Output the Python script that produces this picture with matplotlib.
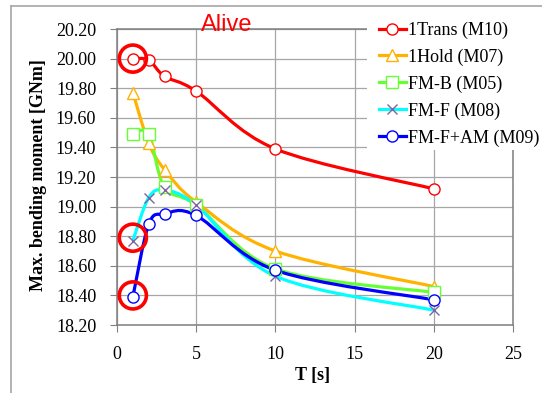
import matplotlib
matplotlib.use("Agg")
import matplotlib.pyplot as plt
import numpy as np
from matplotlib.path import Path
from matplotlib.patches import PathPatch, Rectangle
from matplotlib.lines import Line2D

plt.rcParams['font.family'] = 'Liberation Serif'

T = [1, 2, 3, 5, 10, 20]
trans_m10 = [20.00, 19.99, 19.88, 19.78, 19.39, 19.12]
hold_m07 = [19.77, 19.43, 19.25, 19.03, 18.70, 18.46]
fmb_m05 = [19.49, 19.49, 19.13, 19.01, 18.58, 18.42]
fmf_m08 = [18.77, 19.06, 19.11, 19.01, 18.53, 18.30]
fmfam_m09 = [18.39, 18.88, 18.95, 18.94, 18.57, 18.37]

labels = ["1Trans (M10)", "1Hold (M07)", "FM-B (M05)", "FM-F (M08)", "FM-F+AM (M09)"]
series = [trans_m10, hold_m07, fmb_m05, fmf_m08, fmfam_m09]

# points circled in the original
circled_T = [1, 1, 1]
circled_v = [20.00, 18.79, 18.40]

styles = [
    dict(color="#FF0000", marker="o", mec="#FF0000", ms=8),
    dict(color="#FFB300", marker="^", mec="#FFB300", ms=8),
    dict(color="#66FF33", marker="s", mec="#66FF33", ms=8),
    dict(color="#00FFFF", marker="x", mec="#8064A2", ms=7),
    dict(color="#0000FF", marker="o", mec="#0000FF", ms=8),
]


def smooth_path(x, y):
    # excel style smoothed line: catmull-rom segments as cubic bezier
    p = np.column_stack([x, y]).astype(float)
    n = len(p)
    verts = [p[0]]
    codes = [Path.MOVETO]
    for i in range(n - 1):
        p0 = p[i - 1] if i > 0 else p[i]
        p3 = p[i + 2] if i + 2 < n else p[i + 1]
        c1 = p[i] + (p[i + 1] - p0) / 6.0
        c2 = p[i + 1] - (p3 - p[i]) / 6.0
        verts += [c1, c2, p[i + 1]]
        codes += [Path.CURVE4] * 3
    return Path(verts, codes)


fig = plt.figure(figsize=(5.42, 3.93), dpi=100)
ax = fig.add_axes([0.2159, 0.1730, 0.7306, 0.7532])

handles = []
for vals, st in zip(series, styles):
    ax.add_patch(PathPatch(smooth_path(T, vals), fill=False, edgecolor=st["color"], lw=2.3, zorder=3))
    mfc = "none" if st["marker"] == "x" else "white"
    ax.plot(T, vals, linestyle="none", marker=st["marker"], ms=st["ms"], mfc=mfc,
            mec=st["mec"], mew=1.0, zorder=4)
    handles.append(Line2D([], [], color=st["color"], lw=2.3, marker=st["marker"], ms=st["ms"],
                          mfc=mfc, mec=st["mec"], mew=1.0))

ax.scatter(circled_T, circled_v, s=380, facecolors="none", edgecolors="#FF0000", linewidths=2.6, zorder=5)

ax.set_xlim(0, 25)
ax.set_ylim(18.2, 20.2)
ax.set_xticks(np.arange(0, 26, 5))
ax.set_yticks(np.arange(18.2, 20.21, 0.2))
ax.yaxis.set_major_formatter(matplotlib.ticker.FormatStrFormatter("%.2f"))
ax.tick_params(labelsize=13, direction="out", length=5, color="#808080", pad=10)
ax.grid(True, color="#A6A6A6", lw=0.9)
ax.set_axisbelow(True)
for s in ax.spines.values():
    s.set_color("#7F7F7F")
    s.set_linewidth(1.1)

ax.set_xlabel("T [s]", fontsize=13, fontweight="bold", va="center")
ax.xaxis.set_label_coords(0.495, -0.169)
ax.set_ylabel("Max. bending moment [GNm]", fontsize=13, fontweight="bold", va="center")
ax.yaxis.set_label_coords(-0.1995, 0.507)

ax.text(227 / 542, 1 - 25 / 393, "Alive", transform=fig.transFigure, color="#FF0000",
        fontsize=17, family="Liberation Sans", ha="center", va="center", zorder=6)

# legend background covering the top right of the plot
fig.patches.append(Rectangle((367 / 542, 1 - 150 / 393), 1, 142 / 393, transform=fig.transFigure,
                             facecolor="white", edgecolor="none", zorder=2))
fig.legend(handles, labels, loc="upper left", bbox_to_anchor=(0.6766, 0.977), frameon=False,
           fontsize=13, handlelength=1.45, handletextpad=0.15, labelspacing=0.53, borderpad=0.2)

# chart area border
fig.add_artist(Line2D([11 / 542, 11 / 542], [0, 1 - 6 / 393], transform=fig.transFigure, color="#A6A6A6", lw=1.2))
fig.add_artist(Line2D([11 / 542, 1], [1 - 6 / 393, 1 - 6 / 393], transform=fig.transFigure, color="#A6A6A6", lw=1.2))

fig.savefig("out.png", dpi=100)
